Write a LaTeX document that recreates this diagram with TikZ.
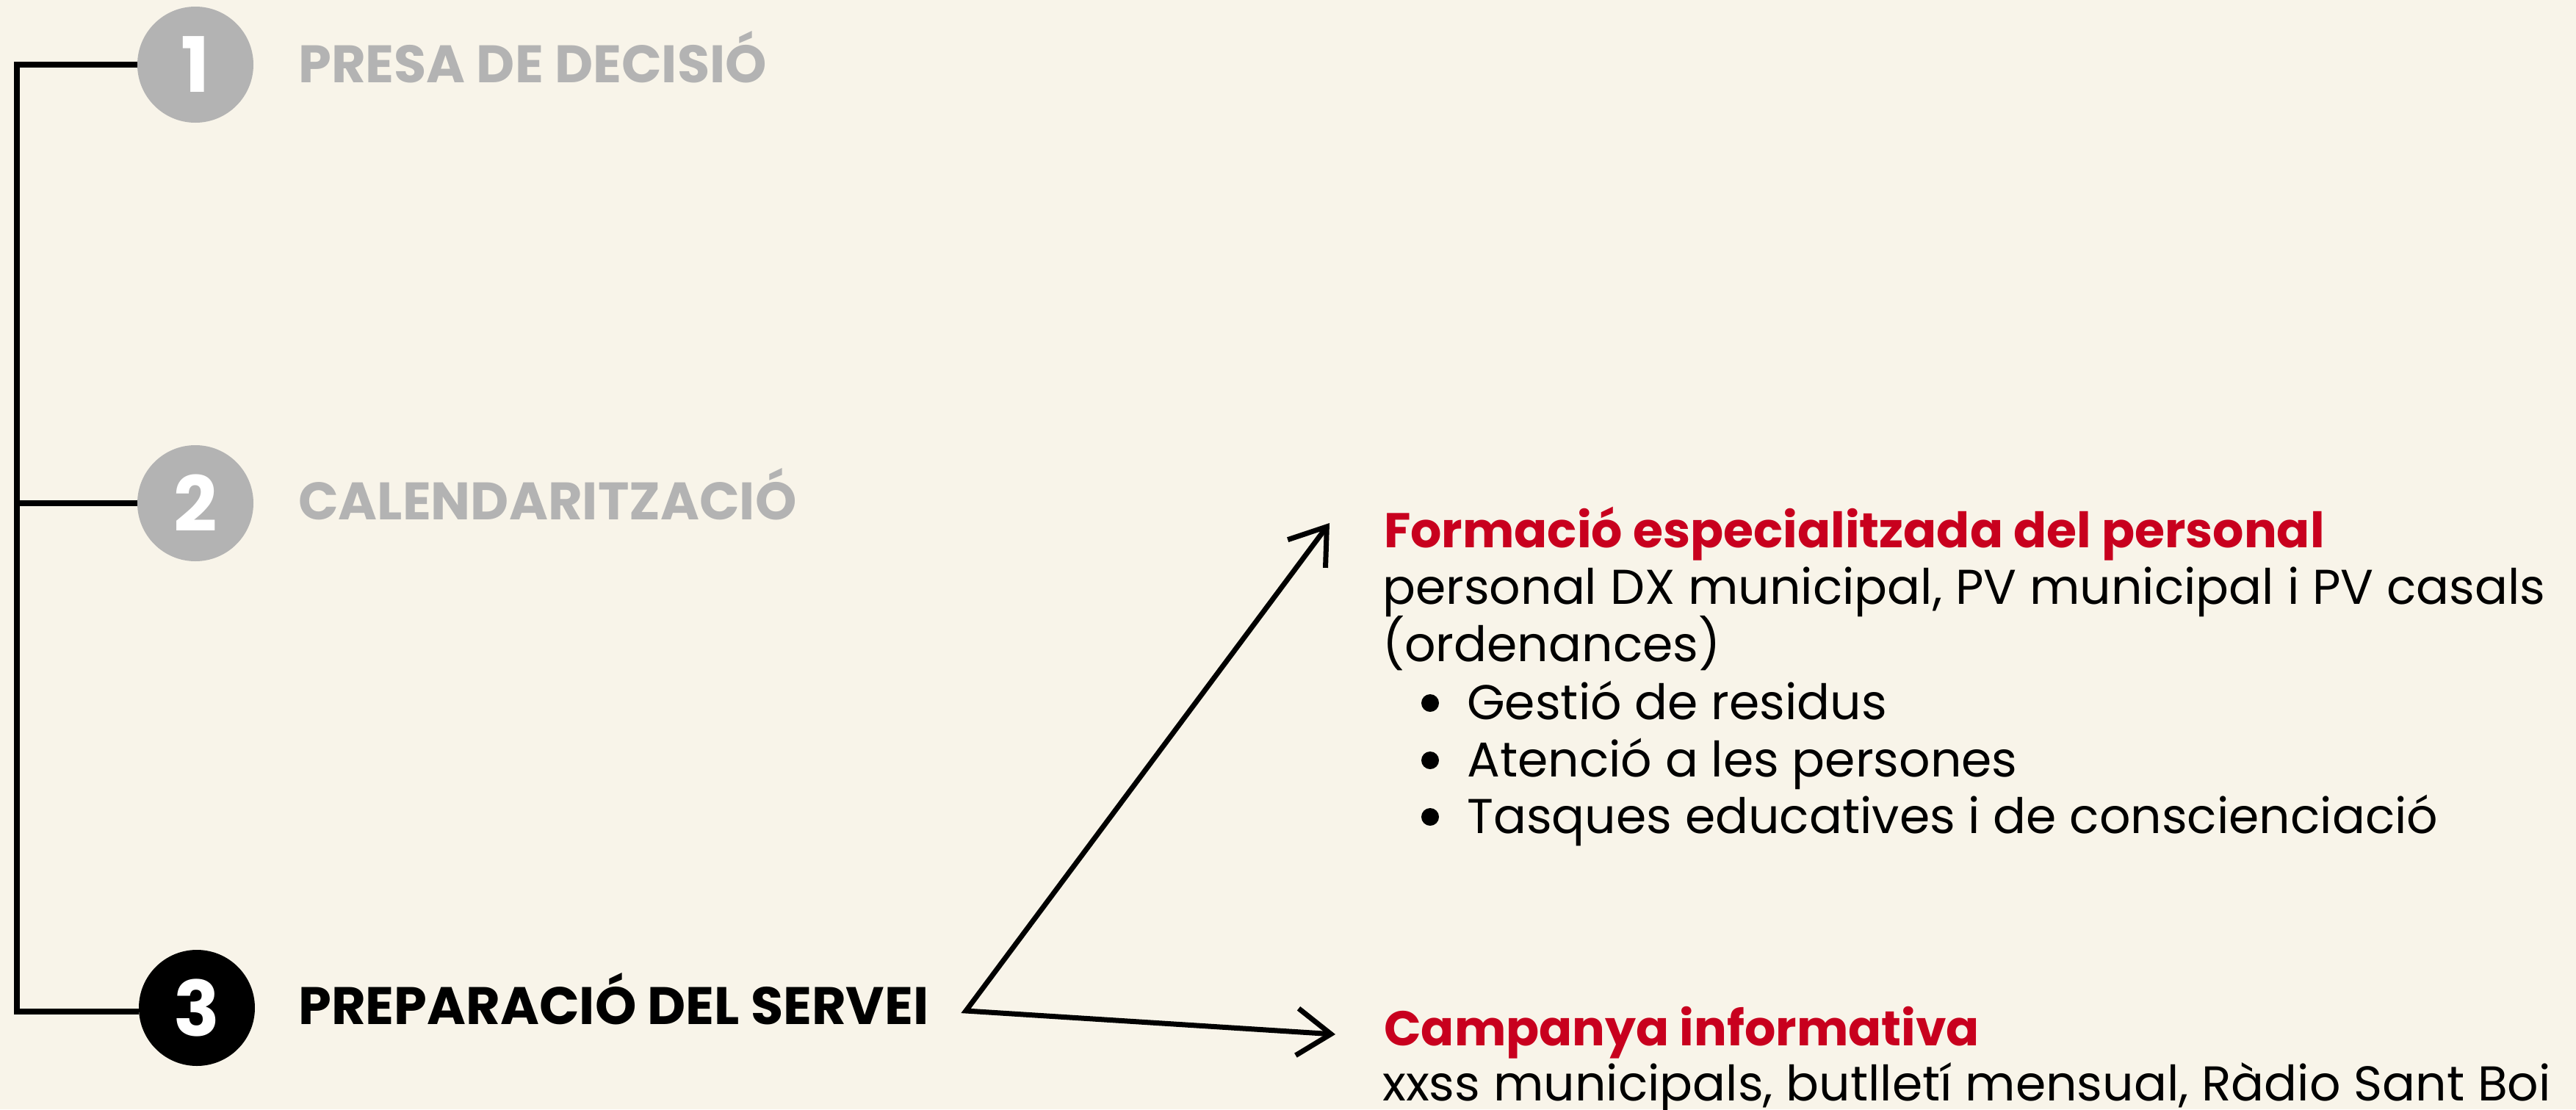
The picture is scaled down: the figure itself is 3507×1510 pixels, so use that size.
\documentclass[tikz,border=0pt]{standalone}
\usepackage{fontspec}
\setmainfont{Poppins}
\usetikzlibrary{arrows.meta}
\definecolor{bgcol}{RGB}{248,244,233}
\definecolor{greycol}{RGB}{179,179,179}
\definecolor{redcol}{RGB}{200,0,30}
\begin{document}
\begin{tikzpicture}[x=1pt,y=-1pt,
  stepnum/.style={circle,minimum size=158pt,inner sep=0pt,text=white,font=\fontsize{104}{104}\selectfont\bfseries},
  stephead/.style={anchor=base west,inner sep=0pt,font=\fontsize{71.8}{71.8}\selectfont\bfseries},
  redhead/.style={anchor=base west,inner sep=0pt,text=redcol,font=\fontsize{66.5}{66.5}\selectfont\bfseries},
  bodytxt/.style={anchor=base west,inner sep=0pt,font=\fontsize{66.5}{66.5}\selectfont},
  conn/.style={line width=7.5pt},
  arr/.style={line width=7pt,line join=miter,{Straight Barb[length=46pt,width=64pt]}-{Straight Barb[length=46pt,width=64pt]}}
]
\fill[bgcol] (0,0) rectangle (3507,1510);
\useasboundingbox (0,0) rectangle (3507,1510);

% step circles
\node[stepnum,fill=greycol] (c1) at (266,88) {1};
\node[stepnum,fill=greycol] (c2) at (266,685) {2};
\node[stepnum,fill=black] (c3) at (268,1372) {3};

% left bracket
\coordinate (t1) at (23,88);
\coordinate (t2) at (23,685);
\coordinate (t3) at (23,1377);
\draw[conn] (c1.west |- t1) -- (t1) -- (t3) -- (c3.west |- t3);
\draw[conn] (t2) -- (c2.west);

% step headings
\node[stephead,text=greycol] (h1) at (406,112) {PRESA DE DECISIÓ};
\node[stephead,text=greycol] (h2) at (406,707) {CALENDARITZACIÓ};
\node[stephead,text=black] (h3) at (406,1394) {PREPARACIÓ DEL SERVEI};

% arrows
\coordinate (J) at (1315,1376);
\coordinate (A1) at (1810,712);
\coordinate (A2) at (1818,1408);
\draw[arr] (A1) -- (J) -- (A2);

% first block
\node[redhead] (r1) at (1884,745) {Formació especialitzada del personal};
\node[bodytxt] (b1) at (1882,822) {personal DX municipal, PV municipal i PV casals};
\node[bodytxt] (b2) at (1882,900) {(ordenances)};
\fill (1947,957) circle (12) coordinate (d1);
\fill (1947,1035) circle (12) coordinate (d2);
\fill (1947,1112) circle (12) coordinate (d3);
\node[bodytxt] (l1) at (1997,979) {Gestió de residus};
\node[bodytxt] (l2) at (1997,1057) {Atenció a les persones};
\node[bodytxt] (l3) at (1997,1134) {Tasques educatives i de conscienciació};

% second block
\node[redhead] (r2) at (1884,1423) {Campanya informativa};
\node[bodytxt] (b3) at (1882,1498) {xxss municipals, butlletí mensual, Ràdio Sant Boi};
\end{tikzpicture}
\end{document}
